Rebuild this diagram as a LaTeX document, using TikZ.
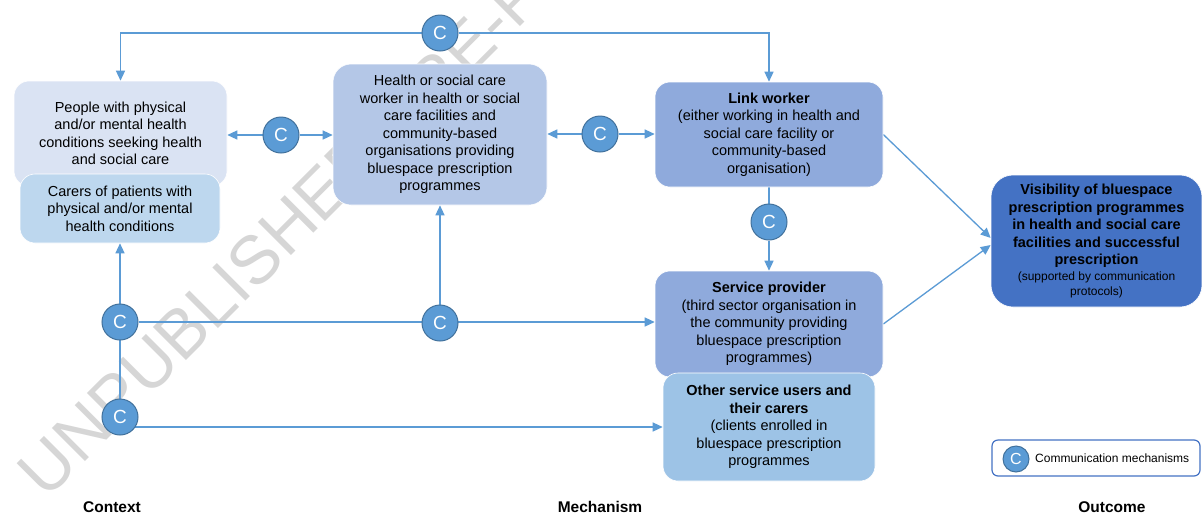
\documentclass[tikz,border=0pt]{standalone}
\usepackage{fontspec}
\setmainfont{Liberation Sans}
\usetikzlibrary{arrows.meta}
\definecolor{linec}{HTML}{5B9BD5}
\definecolor{cfill}{HTML}{5B9BD5}
\definecolor{cdraw}{HTML}{41719C}
\definecolor{peoplec}{HTML}{DAE3F3}
\definecolor{carersc}{HTML}{BDD7EE}
\definecolor{hscc}{HTML}{B4C7E7}
\definecolor{linkc}{HTML}{8FAADC}
\definecolor{osuc}{HTML}{9DC3E6}
\definecolor{outc}{HTML}{4472C4}
\definecolor{wmc}{HTML}{D6D6D6}
\pgfdeclarelayer{wm}
\pgfdeclarelayer{bg}
\pgfsetlayers{wm,bg,main}
\begin{document}
\begin{tikzpicture}[x=1pt,y=-1pt,
  box/.style={rounded corners=15pt, draw=white, line width=0.6pt, align=center,
    inner sep=0pt, text=black, font=\fontsize{14.5}{17.5}\selectfont},
  comm/.style={circle, fill=cfill, draw=cdraw, line width=1pt, minimum size=36pt,
    inner sep=0pt, text=white, font=\fontsize{19}{19}\selectfont},
  conn/.style={draw=linec, line width=1.3pt},
  arr/.style={-{Triangle[length=10pt,width=9pt]}},
  axislabel/.style={font=\bfseries\fontsize{15.5}{15.5}\selectfont, text=black},
]
\useasboundingbox (0,0) rectangle (1202,515);

% watermark
\begin{pgfonlayer}{wm}
\fill[white] (0,0) rectangle (1202,515);
\begin{scope}
\clip (0,0) rectangle (1202,515);
\node[rotate=45, anchor=west, inner sep=0pt, text=wmc,
  font=\fontsize{68}{68}\selectfont] (wmark) at (30,484) {UNPUBLISHED PRE-PRINT};
\end{scope}
\end{pgfonlayer}

% boxes
\node[box, fill=peoplec, minimum width=213pt, minimum height=105pt] (people) at (120.5,133.5)
  {People with physical\\and/or mental health\\conditions seeking health\\and social care};
\node[box, fill=carersc, minimum width=200pt, minimum height=69pt] (carers) at (120,208.5)
  {Carers of patients with\\physical and/or mental\\health conditions};
\node[box, fill=hscc, rounded corners=18pt, minimum width=214pt, minimum height=141pt] (hsc) at (440,134.5)
  {Health or social care\\worker in health or social\\care facilities and\\community-based\\organisations providing\\bluespace prescription\\programmes};
\node[box, fill=linkc, minimum width=228pt, minimum height=105pt] (link) at (769,134.5)
  {\textbf{Link worker}\\(either working in health and\\social care facility or\\community-based\\organisation)};
\node[box, fill=linkc, minimum width=228pt, minimum height=106pt] (sp) at (769,324)
  {\textbf{Service provider}\\(third sector organisation in\\the community providing\\bluespace prescription\\programmes)};
\node[box, fill=osuc, minimum width=212pt, minimum height=108pt] (osu) at (769,427)
  {\textbf{Other service users and}\\\textbf{their carers}\\(clients enrolled in\\bluespace prescription\\programmes};
\node[box, fill=outc, rounded corners=22pt, minimum width=211pt, minimum height=132pt] (out) at (1096.5,241)
  {\textbf{Visibility of bluespace}\\\textbf{prescription programmes}\\\textbf{in health and social care}\\\textbf{facilities and successful}\\\textbf{prescription}\\[-2pt]
   {\fontsize{12}{15}\selectfont (supported by communication}\\[-2pt]{\fontsize{12}{15}\selectfont protocols)}};

% communication circles
\node[comm] (ct) at (440,33) {C};
\node[comm] (c1) at (281,135) {C};
\node[comm] (c2) at (600,134) {C};
\node[comm] (c3) at (769,222) {C};
\node[comm] (c4) at (120,322) {C};
\node[comm] (c6) at (440,323) {C};
\node[comm] (c5) at (120,417) {C};

% connectors
\begin{pgfonlayer}{bg}
\draw[conn,arr] (ct) -| (people.north);
\draw[conn,arr] (ct) -| (link.north);
\draw[conn,arr] (c1) -- (people.east |- c1);
\draw[conn,arr] (c1) -- (hsc.west |- c1);
\draw[conn,arr] (c2) -- (hsc.east |- c2);
\draw[conn,arr] (c2) -- (link.west |- c2);
\draw[conn] (link.south) -- (c3);
\draw[conn,arr] (c3) -- (sp.north);
\draw[conn,arr] (link.east) -- ([yshift=3pt]out.west);
\draw[conn,arr] (sp.east) -- ([yshift=-4pt]out.west);
\draw[conn,arr] (c5) -- (carers.south);
\draw[conn,arr] (c4) -- (sp.west |- c4);
\draw[conn,arr] (c6) -- (hsc.south);
\draw[conn,arr] (c5.center |- osu.west) -- (osu.west);
\end{pgfonlayer}

% legend
\node[draw=outc, rounded corners=6pt, line width=1.2pt, minimum width=208pt,
  minimum height=36pt, inner sep=0pt] (legend) at (1096,458) {};
\node[comm, minimum size=26pt, font=\fontsize{16}{16}\selectfont] (lc) at (1016,459) {C};
\node[anchor=west, inner sep=0pt, font=\fontsize{12}{12}\selectfont] (lt) at (1035,458)
  {Communication mechanisms};

% axis labels
\node[axislabel] (context) at (112,507) {Context};
\node[axislabel] (mechanism) at (600,507) {Mechanism};
\node[axislabel] (outcome) at (1112,507) {Outcome};
\end{tikzpicture}
\end{document}
